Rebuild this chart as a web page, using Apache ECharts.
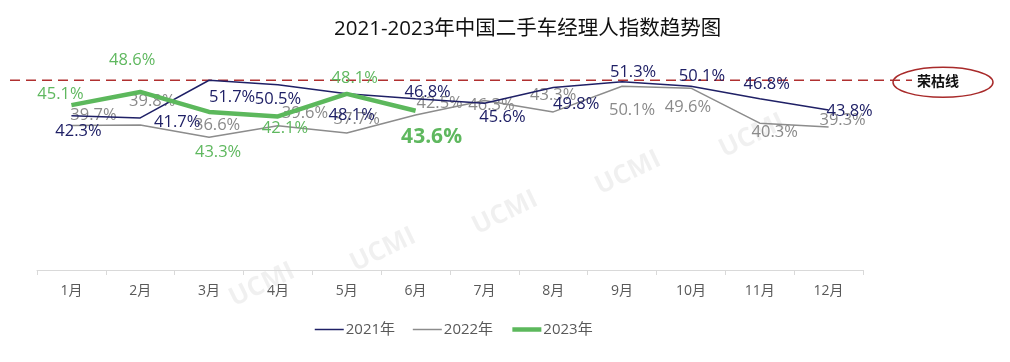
<!DOCTYPE html>
<html>
<head>
<meta charset="utf-8">
<script src="https://cdn.jsdelivr.net/npm/echarts@6/dist/echarts.min.js"></script>
<style>
html,body{margin:0;padding:0;background:#fff;}
#c{width:1010px;height:362px;}
</style>
</head>
<body>
<div id="c"></div>
<script>
// ---- data ----
const months = ['1月','2月','3月','4月','5月','6月','7月','8月','9月','10月','11月','12月'];
const seriesNames = ['2021年','2022年','2023年'];
const v2021 = [42.3, 41.7, 51.7, 50.5, 48.1, 46.8, 45.6, 49.8, 51.3, 50.1, 46.8, 43.8];
const v2022 = [39.7, 39.8, 36.6, 39.6, 37.7, 42.5, 46.3, 43.3, 50.1, 49.6, 40.3, 39.3];
const v2023 = [45.1, 48.6, 43.3, 42.1, 48.1, 43.6];
// level at which the 荣枯线 (boom-bust line) is drawn in the reference
const rongkuLevel = 51.7;
const rongkuLabel = '荣枯线';
const titleText = '2021-2023年中国二手车经理人指数趋势图';

// ---- label placement (offsets in px from each point) ----
const off2021 = [[7,16],[37,4],[23,17],[0,15],[5,21],[12,-6],[18,14],[23,17],[11,-9],[11,-10],[7,-14],[21,1]];
const off2022 = [[22,-10],[12,-24],[8,-12],[27,-13],[10,-14],[24,-12],[7,5],[0,-17],[10,24],[-3,19],[15,9],[14,-7]];
const off2023 = [[-11,-11],[-8,-32],[9,40],[7,12],[8,-16],[16,26]];

const C21 = '#1f2066', C22 = '#8c8c8c', C23 = '#5cb85c';
const W21 = 1.5, W22 = 1.5, W23 = 4.5;
const FONT = '"Open Sans","Noto Sans CJK SC",sans-serif';

function mk(vals, offs, extra) {
  return vals.map((v, i) => {
    const item = { value: v, label: { offset: offs[i] } };
    if (extra && extra[i]) Object.assign(item.label, extra[i]);
    return item;
  });
}

const chart = echarts.init(document.getElementById('c'), null, {renderer: 'canvas'});
const baseLabel = (color) => ({
  show: true, position: 'inside', align: 'center', verticalAlign: 'middle',
  color: color, fontSize: 16.5, fontFamily: FONT,
  formatter: p => p.value.toFixed(1) + '%'
});

const option = {
  animation: false,
  backgroundColor: '#fff',
  textStyle: { fontFamily: FONT },
  title: {
    text: titleText, left: 329, top: 14,
    textStyle: { fontSize: 20.5, fontWeight: 'normal', color: '#111', fontFamily: FONT }
  },
  legend: {
    left: 309, top: 317, itemWidth: 29, itemHeight: 10, itemGap: 17,
    itemStyle: { opacity: 0 },
    textStyle: { color: '#595959', fontSize: 15, fontFamily: FONT, padding: [0,0,0,-3] },
    data: [
      { name: seriesNames[0], lineStyle: { width: W21, color: C21 } },
      { name: seriesNames[1], lineStyle: { width: W22, color: C22 } },
      { name: seriesNames[2], lineStyle: { width: W23, color: C23 } }
    ]
  },
  grid: { left: 37, right: 147, top: 49, bottom: 87 },
  xAxis: {
    type: 'category', data: months, boundaryGap: true, offset: -5,
    axisLine: { lineStyle: { color: '#d9d9d9', width: 1 } },
    axisTick: { show: true, length: 5, lineStyle: { color: '#d9d9d9' } },
    axisLabel: { color: '#595959', fontSize: 14, margin: 14, fontFamily: FONT },
    splitLine: { show: false }
  },
  yAxis: {
    type: 'value', min: 0, max: 60, show: false, splitLine: { show: false }
  },
  series: [
    {
      name: seriesNames[0], type: 'line', data: mk(v2021, off2021),
      symbol: 'circle', symbolSize: 0.01, z: 3,
      lineStyle: { color: C21, width: W21 }, itemStyle: { color: C21 },
      label: baseLabel(C21)
    },
    {
      name: seriesNames[1], type: 'line', data: mk(v2022, off2022),
      symbol: 'circle', symbolSize: 0.01, z: 2,
      lineStyle: { color: C22, width: W22 }, itemStyle: { color: C22 },
      label: baseLabel('#8a8a8a')
    },
    {
      name: seriesNames[2], type: 'line',
      data: mk(v2023, off2023, {5: { fontSize: 21, fontWeight: 'bold' }}),
      symbol: 'circle', symbolSize: 0.01, z: 4,
      lineStyle: { color: C23, width: W23 }, itemStyle: { color: C23 },
      label: baseLabel('#5fb85f')
    }
  ]
};
chart.setOption(option);

// annotation: 荣枯线 dashed line + ellipse badge, placed through the y scale
const yLine = chart.convertToPixel({ yAxisIndex: 0 }, rongkuLevel);
const wm = [[262,285],[383,250],[505,213],[628,173],[752,136]].map(p => ({
  type: 'text', x: p[0], y: p[1], rotation: 0.45, z: 0, silent: true,
  style: { text: 'UCMI', fill: 'rgba(0,0,0,0.06)', font: 'bold 26px ' + FONT, align: 'center', verticalAlign: 'middle' }
}));
chart.setOption({
  graphic: wm.concat([
    { type: 'line', z: 1, silent: true,
      shape: { x1: 10, y1: yLine, x2: 912, y2: yLine },
      style: { stroke: '#b03030', lineWidth: 1.5, lineDash: [10, 6] } },
    { type: 'ellipse', z: 5, silent: true,
      shape: { cx: 943, cy: yLine + 2, rx: 50, ry: 15 },
      style: { stroke: '#a82a2a', lineWidth: 1.5, fill: 'transparent' } },
    { type: 'text', z: 6, silent: true, x: 938, y: yLine,
      style: { text: rongkuLabel, fill: '#111', font: 'bold 14px "Noto Sans CJK SC",sans-serif', align: 'center', verticalAlign: 'middle' } }
  ])
});
</script>
</body>
</html>
